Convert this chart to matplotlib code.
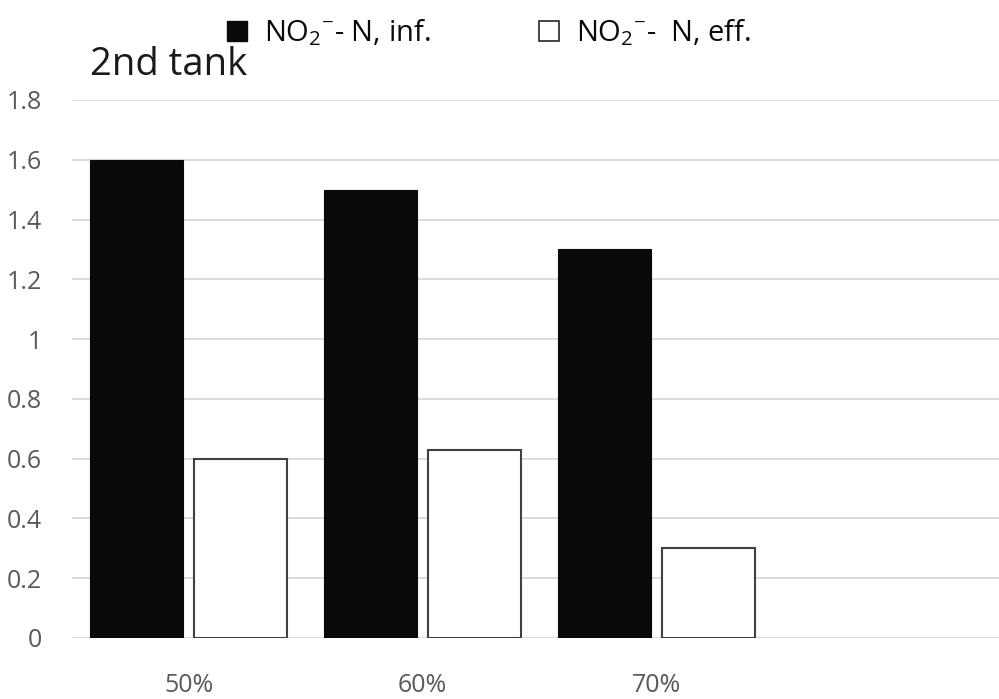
import matplotlib
matplotlib.use('Agg')
import matplotlib.pyplot as plt
import numpy as np
from matplotlib.patches import Patch

# NO2- N concentrations, second tank
categories = ['50%', '60%', '70%', '']
inf_values = [1.6, 1.5, 1.3, np.nan]
eff_values = [0.6, 0.63, 0.3, np.nan]

plt.rcParams['font.family'] = ['Open Sans', 'DejaVu Sans']
plt.rcParams['mathtext.fontset'] = 'custom'
plt.rcParams['mathtext.rm'] = 'Open Sans'

fig = plt.figure(figsize=(9.99, 6.99), dpi=100)
ax = fig.add_axes([0.0716, 0.0873, 0.937, 0.7697])

x = np.arange(len(categories))
w = 0.397
off = 0.221
ax.bar(x - off, inf_values, width=w, color='#0a0a0a', edgecolor='#0a0a0a', linewidth=0.8, zorder=3)
ax.bar(x + off, eff_values, width=w, color='white', edgecolor='#404040', linewidth=1.5, zorder=3)

ax.set_xlim(-0.5, len(categories) - 0.5)
ax.set_ylim(0, 1.8)
ax.set_yticks(np.arange(0, 1.81, 0.2))
ax.set_yticklabels(['0', '0.2', '0.4', '0.6', '0.8', '1', '1.2', '1.4', '1.6', '1.8'])
ax.set_xticks(x)
ax.set_xticklabels(categories)
ax.grid(axis='y', color='#d9d9d9', linewidth=1.3, zorder=0)
for s in ax.spines.values():
    s.set_visible(False)
ax.tick_params(axis='both', length=0, colors='#595959')
ax.tick_params(axis='y', labelsize=18, pad=21)
ax.tick_params(axis='x', labelsize=18, pad=25)

fig.text(0.09, 0.893, '2nd tank', fontsize=27.5, color='#1a1a1a')

handles = [Patch(facecolor='#0a0a0a', edgecolor='#0a0a0a'),
           Patch(facecolor='white', edgecolor='#262626', linewidth=1.2)]
labels = [r'NO$_\mathregular{2}$$^\mathregular{-}$- N, inf.',
          r'NO$_\mathregular{2}$$^\mathregular{-}$-  N, eff.']
fig.legend(handles, labels, loc='upper left', bbox_to_anchor=(0.201, 1.013), ncol=2,
           frameon=False, fontsize=21, handlelength=0.7, handleheight=0.7,
           handletextpad=0.58, columnspacing=3.7, labelcolor='#0a0a0a')

fig.savefig('out.png', dpi=100)
